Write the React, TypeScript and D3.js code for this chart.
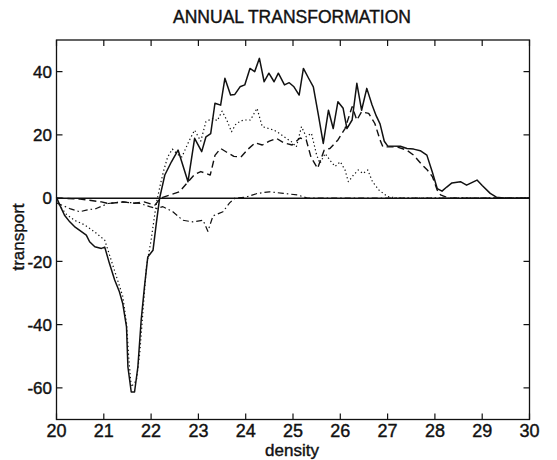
import React from "react";
import * as d3 from "d3";

const title = "ANNUAL TRANSFORMATION";
const xLabel = "density";
const yLabel = "transport";
const xTicks = [20, 21, 22, 23, 24, 25, 26, 27, 28, 29, 30];
const yTicks = [-60, -40, -20, 0, 20, 40];

// [density, transport]
const solid: [number, number][] = [
  [20.0, 0.3], [20.07, -2.2], [20.17, -5.4], [20.28, -7.5], [20.38, -9], [20.52, -10.5],
  [20.63, -11.7], [20.7, -13.8], [20.81, -15.4], [20.95, -15.9], [21.02, -15.5],
  [21.12, -20.7], [21.23, -25.9], [21.33, -29.6], [21.4, -33.3], [21.48, -40.7],
  [21.51, -53.4], [21.58, -61.3], [21.65, -61.3], [21.72, -53.4], [21.79, -38.6],
  [21.86, -28], [21.93, -18.6], [22.04, -16.5], [22.11, -8], [22.18, 0], [22.29, 7.3],
  [22.43, 11.5], [22.57, 15.2], [22.78, 5.2], [22.92, 18.9], [23.07, 14.7], [23.16, 19.4],
  [23.26, 20.4], [23.35, 30], [23.47, 29.4], [23.56, 37.9], [23.68, 32.6], [23.77, 32.8],
  [23.88, 35.2], [23.98, 35.8], [24.09, 41], [24.19, 40], [24.29, 44.2], [24.39, 36.8],
  [24.49, 39.5], [24.6, 36.8], [24.69, 39.5], [24.82, 35.8], [24.92, 36.5], [25.02, 35.2],
  [25.13, 32.6], [25.22, 41], [25.33, 37.9], [25.43, 35.2], [25.54, 26], [25.64, 17.3],
  [25.75, 27.8], [25.85, 22], [25.95, 30.5], [26.06, 28.4], [26.14, 22], [26.25, 24.7],
  [26.35, 36.3], [26.45, 27.8], [26.56, 34.7], [26.67, 29.5], [26.76, 26], [26.84, 23.5],
  [26.93, 18], [27.0, 16.5], [27.27, 16.4], [27.41, 15.7], [27.55, 15.5], [27.69, 15],
  [27.83, 13.6], [27.95, 8], [28.05, 3], [28.15, 2.2], [28.25, 3.5], [28.36, 4.8],
  [28.54, 5.2], [28.67, 4.1], [28.89, 5.7], [29.0, 4], [29.17, 1.5], [29.3, 0.3],
  [29.5, 0], [30.0, 0],
];

const dotted: [number, number][] = [
  [20.0, -1], [20.2, -5], [20.38, -7], [20.6, -8.5], [20.81, -10.7], [21.02, -13.3],
  [21.1, -17], [21.25, -24], [21.4, -31], [21.48, -39.6], [21.53, -51], [21.58, -59.7],
  [21.69, -57.6], [21.76, -49], [21.83, -35.4], [21.9, -21.7], [22.0, -13.3],
  [22.07, -5.9], [22.12, -1], [22.2, 4.6], [22.27, 8.9], [22.35, 13], [22.45, 15.5],
  [22.55, 14], [22.65, 13], [22.8, 18], [22.92, 21.5], [23.05, 18], [23.16, 24.2],
  [23.3, 25.2], [23.4, 24.5], [23.5, 27.5], [23.6, 24.7], [23.7, 21], [23.8, 23.6],
  [23.95, 24.7], [24.1, 24.7], [24.24, 28.4], [24.35, 22.6], [24.49, 22], [24.6, 21.5],
  [24.72, 20.4], [24.86, 18.9], [24.97, 17.8], [25.07, 16.2], [25.18, 22.6],
  [25.28, 19.4], [25.39, 20.5], [25.5, 13.6], [25.57, 11], [25.68, 14.1], [25.78, 12],
  [25.89, 10], [26.0, 11.5], [26.1, 8.9], [26.17, 5.2], [26.28, 7.3], [26.38, 8.9],
  [26.48, 7.8], [26.58, 8.9], [26.68, 5.2], [26.82, 2.5], [27.0, 0.5], [27.2, 0],
  [30.0, 0],
];

const dashed: [number, number][] = [
  [20.0, 0], [20.5, -0.3], [20.95, -1.2], [21.1, -1.7], [21.4, -1.2], [21.65, -1.6],
  [21.85, -1.2], [22.08, -2.2], [22.2, 0], [22.6, 2], [22.75, 4.6], [22.92, 7.5],
  [23.05, 8.4], [23.25, 7.3], [23.35, 13.5], [23.47, 15.7], [23.6, 14.5], [23.75, 13.2],
  [23.9, 13], [24.05, 15.5], [24.2, 17.5], [24.35, 16.8], [24.5, 18], [24.65, 18.9],
  [24.8, 17.5], [24.98, 16.8], [25.15, 19], [25.28, 18.4], [25.38, 13], [25.52, 9.4],
  [25.66, 15.2], [25.78, 15.7], [25.95, 18.4], [26.1, 22], [26.25, 28.9], [26.35, 24.7],
  [26.45, 27.3], [26.6, 26.8], [26.73, 23.6], [26.84, 18.4], [26.9, 16.2], [27.2, 16.2],
  [27.4, 15.2], [27.55, 13.6], [27.7, 11], [27.84, 8.9], [27.95, 6.7], [28.05, 2.5],
  [28.12, 1], [28.3, 0], [30.0, 0],
];

const dashDot: [number, number][] = [
  [20.0, -1.5], [20.28, -3.3], [20.49, -4.3], [20.63, -3.8], [20.84, -3.3], [21.09, -1.7],
  [21.41, -1.2], [21.77, -1.7], [21.97, -2.7], [22.11, -3.3], [22.25, -2.7], [22.46, -4.3],
  [22.67, -7], [22.88, -7.5], [23.1, -7], [23.2, -10.5], [23.31, -5.6], [23.52, -4.3],
  [23.66, -1.5], [23.77, 0], [24.0, 0.3], [24.25, 1.5], [24.5, 2], [24.8, 1.5],
  [25.1, 1], [25.3, 0], [30.0, 0],
];

const W = 557;
const H = 460;
const L = 56.5;
const R = 529.5;
const T = 40;
const B = 419.5;
const FONT = "'Liberation Sans', Arial, Helvetica, sans-serif";
const INK = "#111";

export default function App() {
  const x = d3.scaleLinear().domain([20, 30]).range([L, R]);
  const y = d3.scaleLinear().domain([-70, 50]).range([B, T]);
  const line = d3
    .line<[number, number]>()
    .x((d) => x(d[0]))
    .y((d) => y(d[1]));

  const series = [
    { data: dotted, dash: "1.3 2.6", w: 1.2 },
    { data: dashed, dash: "7 4", w: 1.4 },
    { data: dashDot, dash: "6 3 1.5 3", w: 1.2 },
    { data: solid, dash: undefined, w: 1.5 },
  ];

  const textStyle = { stroke: INK, strokeWidth: 0.4 };

  return (
    <svg
      width={W}
      height={H}
      style={{ position: "absolute", left: 0, top: 0, background: "#fff" }}
      fontFamily={FONT}
    >
      <rect x={0} y={0} width={W} height={H} fill="#fff" />
      <text x={292} y={23} textAnchor="middle" fontSize={17.5} fill={INK} style={textStyle}>
        {title}
      </text>
      <line x1={L} x2={R} y1={y(0)} y2={y(0)} stroke={INK} strokeWidth={1.5} />
      {series.map((s, i) => (
        <path
          key={i}
          d={line(s.data) || ""}
          fill="none"
          stroke={INK}
          strokeWidth={s.w}
          strokeDasharray={s.dash}
          strokeLinejoin="round"
        />
      ))}
      <rect x={L} y={T} width={R - L} height={B - T} fill="none" stroke={INK} strokeWidth={1.3} />
      {xTicks.map((t) => (
        <g key={"x" + t}>
          <line x1={x(t)} x2={x(t)} y1={B} y2={B - 6} stroke={INK} strokeWidth={1.2} />
          <line x1={x(t)} x2={x(t)} y1={T} y2={T + 6} stroke={INK} strokeWidth={1.2} />
          <text x={x(t)} y={437} textAnchor="middle" fontSize={18} fill={INK} style={textStyle}>
            {t}
          </text>
        </g>
      ))}
      {yTicks.map((t) => (
        <g key={"y" + t}>
          <line x1={L} x2={L + 6} y1={y(t)} y2={y(t)} stroke={INK} strokeWidth={1.2} />
          <line x1={R} x2={R - 6} y1={y(t)} y2={y(t)} stroke={INK} strokeWidth={1.2} />
          <text x={52} y={y(t) + 6.3} textAnchor="end" fontSize={17} fill={INK} style={textStyle}>
            {t}
          </text>
        </g>
      ))}
      <text x={292} y={456} textAnchor="middle" fontSize={17} fill={INK} style={textStyle}>
        {xLabel}
      </text>
      <text
        transform={`translate(24,237) rotate(-90)`}
        textAnchor="middle"
        fontSize={17}
        fill={INK}
        style={textStyle}
      >
        {yLabel}
      </text>
    </svg>
  );
}
